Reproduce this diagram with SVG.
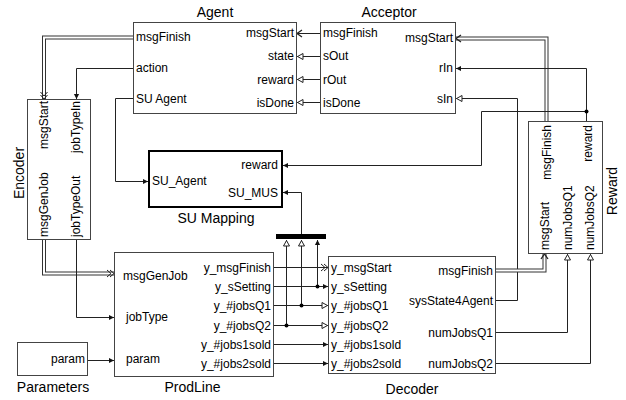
<svg xmlns="http://www.w3.org/2000/svg" width="626" height="400" viewBox="0 0 626 400">
  <style>
    .blk { fill: #fff; stroke: #444; stroke-width: 1; }
    .blk2 { fill: #fff; stroke: #000; stroke-width: 2; }
    .p { font-family: "Liberation Sans", Arial, sans-serif; font-size: 12px; fill: #000; }
    .t { font-family: "Liberation Sans", Arial, sans-serif; font-size: 14px; fill: #000; text-anchor: middle; }
    .e { text-anchor: end; }
    .w { fill: none; stroke: #222; stroke-width: 1; }
    .busO { fill: none; stroke: #333; stroke-width: 4; stroke-linejoin: miter; }
    .busI { fill: none; stroke: #fff; stroke-width: 2; stroke-linejoin: miter; }
    .filled { marker-end: url(#fa); }
    .open { marker-end: url(#oa); }
    .chev { marker-end: url(#ch); }
    .dchev { marker-end: url(#dch); }
  </style>
  <defs>
    <marker id="fa" markerUnits="userSpaceOnUse" orient="auto" refX="0" refY="0" markerWidth="10" markerHeight="10" overflow="visible">
      <path d="M-5,-2.6 L0,0 L-5,2.6 z" fill="#111"/>
    </marker>
    <marker id="oa" markerUnits="userSpaceOnUse" orient="auto" refX="0" refY="0" markerWidth="10" markerHeight="10" overflow="visible">
      <path d="M-6,-3 L-0.5,0 L-6,3 z" fill="#fff" stroke="#222" stroke-width="1"/>
    </marker>
    <marker id="ch" markerUnits="userSpaceOnUse" orient="auto" refX="0" refY="0" markerWidth="10" markerHeight="10" overflow="visible">
      <path d="M-5,-3.5 L0,0 L-5,3.5" fill="none" stroke="#222" stroke-width="1.3"/>
    </marker>
    <marker id="dch" markerUnits="userSpaceOnUse" orient="auto" refX="0" refY="0" markerWidth="10" markerHeight="10" overflow="visible">
      <path d="M-7,-3.5 L-3,0 L-7,3.5 M-4,-3.5 L0,0 L-4,3.5" fill="none" stroke="#222" stroke-width="1"/>
    </marker>
  </defs>

  <!-- signal lines -->
  <g id="connectors">
    <!-- Acceptor -> Agent -->
    <path class="w chev" d="M320,33.5 H297"/>
    <path class="w open" d="M320,56.5 H297"/>
    <path class="w open" d="M320,79.5 H297"/>
    <path class="w open" d="M320,102.5 H297"/>

    <!-- Agent -> Encoder -->
    <path class="busO" d="M133,37.5 H44 V99"/>
    <path class="busI dchev" d="M133,37.5 H44 V99"/>
    <path class="w filled" d="M133,68.5 H76.5 V99"/>

    <!-- Agent -> SU Mapping -->
    <path class="w filled" d="M133,98.5 H115.5 V181.5 H148"/>

    <!-- Reward -> Acceptor -->
    <path class="busO" d="M546.5,121 V38.5 H456"/>
    <path class="busI chev" d="M546.5,121 V38.5 H456"/>
    <path class="w filled" d="M586.5,121 V68.5 H456"/>
    <path class="w filled" d="M586.5,111.5 H481.5 V165.5 H283"/>
    <circle cx="586.5" cy="111.5" r="2" fill="#000"/>

    <!-- Decoder -> Acceptor -->
    <path class="w open" d="M496,300.5 H517.5 V98.5 H456"/>

    <!-- Decoder -> Reward -->
    <path class="busO" d="M496,270.5 H544.5 V254"/>
    <path class="busI chev" d="M496,270.5 H544.5 V254"/>
    <path class="w open" d="M496,332.5 H567.5 V254"/>
    <path class="w open" d="M496,363.5 H590.5 V254"/>

    <!-- Encoder -> ProdLine -->
    <path class="busO" d="M44,240 V273.5 H114"/>
    <path class="busI dchev" d="M44,240 V273.5 H114"/>
    <path class="w filled" d="M76.5,240 V317.5 H114"/>

    <!-- Parameters -> ProdLine -->
    <path class="w filled" d="M88,360.5 H114"/>

    <!-- ProdLine -> Decoder -->
    <path class="w dchev" d="M274,267.5 H328"/>
    <path class="w filled" d="M274,286.5 H328"/>
    <path class="w open" d="M274,305.5 H328"/>
    <path class="w open" d="M274,325.5 H328"/>
    <path class="w filled" d="M274,344.5 H328"/>
    <path class="w filled" d="M274,363.5 H328"/>

    <!-- bus creator to SU Mapping -->
    <path class="w filled" d="M317.5,286.5 V240"/>
    <path class="w open" d="M301.5,305.5 V240"/>
    <path class="w open" d="M286.5,325.5 V240"/>
    <circle cx="317.5" cy="286.5" r="2" fill="#000"/>
    <circle cx="301.5" cy="305.5" r="2" fill="#000"/>
    <circle cx="286.5" cy="325.5" r="2" fill="#000"/>
    <path class="w filled" d="M301.5,234 V192.5 H283"/>
  </g>

  <g id="busCreator">
    <rect x="276" y="234" width="50" height="5" fill="#000"/>
  </g>

  <g id="agent">
    <rect class="blk" x="133.5" y="22.5" width="163" height="91"/>
    <text class="t" x="215" y="16.5">Agent</text>
    <text class="p" x="136" y="40.5">msgFinish</text>
    <text class="p" x="136" y="72">action</text>
    <text class="p" x="136" y="103">SU Agent</text>
    <text class="p e" x="294" y="37">msgStart</text>
    <text class="p e" x="294" y="60">state</text>
    <text class="p e" x="294" y="84">reward</text>
    <text class="p e" x="294" y="107">isDone</text>
  </g>

  <g id="acceptor">
    <rect class="blk" x="320.5" y="22.5" width="135" height="91"/>
    <text class="t" x="389" y="16.5">Acceptor</text>
    <text class="p" x="323" y="37">msgFinish</text>
    <text class="p" x="323" y="60">sOut</text>
    <text class="p" x="323" y="84">rOut</text>
    <text class="p" x="323" y="107">isDone</text>
    <text class="p e" x="453" y="41.5">msgStart</text>
    <text class="p e" x="453" y="72">rIn</text>
    <text class="p e" x="453" y="103">sIn</text>
  </g>

  <g id="encoder">
    <rect class="blk" x="27.5" y="99.5" width="63" height="140"/>
    <text class="t" transform="translate(23.5,173) rotate(-90)">Encoder</text>
    <text class="p e" transform="translate(47.5,101) rotate(-90)">msgStart</text>
    <text class="p e" transform="translate(79.5,101) rotate(-90)">jobTypeIn</text>
    <text class="p" transform="translate(47.5,237) rotate(-90)">msgGenJob</text>
    <text class="p" transform="translate(79.5,237) rotate(-90)">jobTypeOut</text>
  </g>

  <g id="suMapping">
    <rect class="blk2" x="149" y="151" width="133" height="56"/>
    <text class="t" x="216" y="223">SU Mapping</text>
    <text class="p e" x="278" y="168.5">reward</text>
    <text class="p" x="152" y="185">SU_Agent</text>
    <text class="p e" x="278" y="197">SU_MUS</text>
  </g>

  <g id="reward">
    <rect class="blk" x="528.5" y="121.5" width="74" height="132"/>
    <text class="t" transform="translate(616.5,191) rotate(-90)">Reward</text>
    <text class="p e" transform="translate(550.5,125) rotate(-90)">msgFinish</text>
    <text class="p e" transform="translate(591.5,125) rotate(-90)">reward</text>
    <text class="p" transform="translate(548.5,250) rotate(-90)">msgStart</text>
    <text class="p" transform="translate(572,250) rotate(-90)">numJobsQ1</text>
    <text class="p" transform="translate(594,250) rotate(-90)">numJobsQ2</text>
  </g>

  <g id="prodLine">
    <rect class="blk" x="114.5" y="252.5" width="159" height="124"/>
    <text class="t" x="192.5" y="392">ProdLine</text>
    <text class="p" x="123" y="279.5">msgGenJob</text>
    <text class="p" x="126" y="320.5">jobType</text>
    <text class="p" x="126" y="363">param</text>
    <text class="p e" x="271" y="271.7">y_msgFinish</text>
    <text class="p e" x="271" y="290.7">y_sSetting</text>
    <text class="p e" x="271" y="310">y_#jobsQ1</text>
    <text class="p e" x="271" y="329.5">y_#jobsQ2</text>
    <text class="p e" x="271" y="348.7">y_#jobs1sold</text>
    <text class="p e" x="271" y="367.7">y_#jobs2sold</text>
  </g>

  <g id="decoder">
    <rect class="blk" x="328.5" y="256.5" width="167" height="117"/>
    <text class="t" x="412" y="394">Decoder</text>
    <text class="p" x="331" y="271.7">y_msgStart</text>
    <text class="p" x="331" y="290.7">y_sSetting</text>
    <text class="p" x="331" y="310">y_#jobsQ1</text>
    <text class="p" x="331" y="329.5">y_#jobsQ2</text>
    <text class="p" x="331" y="348.7">y_#jobs1sold</text>
    <text class="p" x="331" y="367.7">y_#jobs2sold</text>
    <text class="p e" x="493" y="274.8">msgFinish</text>
    <text class="p e" x="493" y="305">sysState4Agent</text>
    <text class="p e" x="493" y="336.8">numJobsQ1</text>
    <text class="p e" x="493" y="367.7">numJobsQ2</text>
  </g>

  <g id="parameters">
    <rect class="blk" x="17.5" y="342.5" width="70" height="33"/>
    <text class="t" x="53" y="392">Parameters</text>
    <text class="p e" x="85" y="363">param</text>
  </g>
</svg>
